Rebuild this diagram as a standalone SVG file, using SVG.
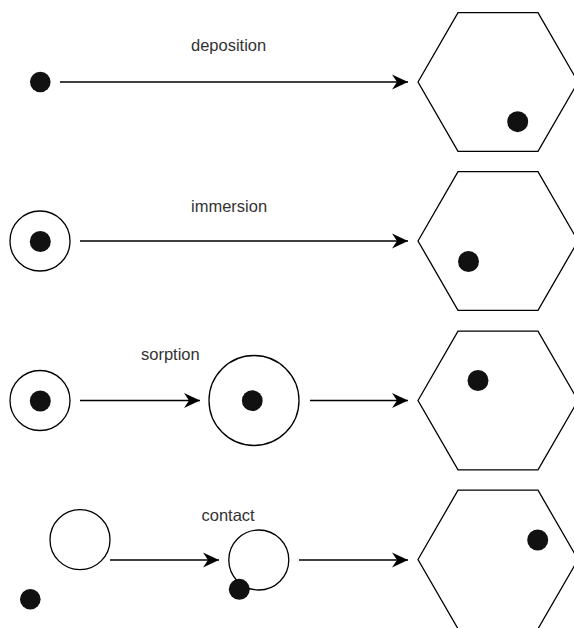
<svg xmlns="http://www.w3.org/2000/svg" width="574" height="628" viewBox="0 0 574 628">
<style>
.hex{fill:#fff;stroke:#000;stroke-width:1.3}
.ring{fill:#fff;stroke:#000;stroke-width:1.3}
.dot{fill:#111;stroke:none}
.edge{fill:none;stroke:#000;stroke-width:1.3;marker-end:url(#arr)}
.lbl{font-family:"Liberation Sans",Arial,sans-serif;font-size:16.5px;fill:#333}
</style>
<defs>
<marker id="arr" markerUnits="userSpaceOnUse" markerWidth="20" markerHeight="20" viewBox="-18 -10 20 20" refX="0" refY="0" orient="auto">
<path d="M0,0 L-16,-7.5 L-11,0 L-16,7.5 Z" fill="#000"/>
</marker>
</defs>
<rect width="574" height="628" fill="#fff"/>
<g id="connectors">
<line class="edge" x1="60" y1="82" x2="408" y2="82"/>
<line class="edge" x1="80" y1="241" x2="408" y2="241"/>
<line class="edge" x1="80" y1="400.5" x2="200" y2="400.5"/>
<line class="edge" x1="310" y1="400.5" x2="408" y2="400.5"/>
<line class="edge" x1="110" y1="560" x2="219" y2="560"/>
<line class="edge" x1="299" y1="560" x2="408" y2="560"/>
</g>
<g id="labels">
<text class="lbl" x="191" y="51">deposition</text>
<text class="lbl" x="191" y="212">immersion</text>
<text class="lbl" x="141" y="360">sorption</text>
<text class="lbl" x="201.5" y="521">contact</text>
</g>
<g id="row1-particle"><circle class="dot" cx="40.3" cy="82" r="10.3"/></g>
<g id="row1-hex">
<polygon class="hex" points="418,82 458,12.7 538,12.7 578,82 538,151.3 458,151.3"/>
<circle class="dot" cx="517.7" cy="121.7" r="10.5"/>
</g>
<g id="row2-particle">
<circle class="ring" cx="40" cy="241" r="30"/>
<circle class="dot" cx="40.3" cy="241.5" r="10.5"/>
</g>
<g id="row2-hex">
<polygon class="hex" points="418,241 458,171.7 538,171.7 578,241 538,310.3 458,310.3"/>
<circle class="dot" cx="468.5" cy="261.5" r="10.5"/>
</g>
<g id="row3-particle">
<circle class="ring" cx="40" cy="400.5" r="30"/>
<circle class="dot" cx="40.3" cy="401" r="10.5"/>
</g>
<g id="row3-grown">
<circle class="ring" cx="254" cy="400.5" r="45"/>
<circle class="dot" cx="252.3" cy="400.7" r="10.4"/>
</g>
<g id="row3-hex">
<polygon class="hex" points="418,400.5 458,331.2 538,331.2 578,400.5 538,469.8 458,469.8"/>
<circle class="dot" cx="478" cy="380.5" r="10.5"/>
</g>
<g id="row4-bubble"><circle class="ring" cx="80" cy="539.7" r="30"/></g>
<g id="row4-particle"><circle class="dot" cx="30.3" cy="599.3" r="10.3"/></g>
<g id="row4-contact">
<circle class="ring" cx="258.8" cy="560" r="30"/>
<circle class="dot" cx="239.3" cy="589.3" r="10.5"/>
</g>
<g id="row4-hex">
<polygon class="hex" points="418,559.5 458,490.2 538,490.2 578,559.5 538,628.8 458,628.8"/>
<circle class="dot" cx="537.7" cy="540" r="10.5"/>
</g>
</svg>
